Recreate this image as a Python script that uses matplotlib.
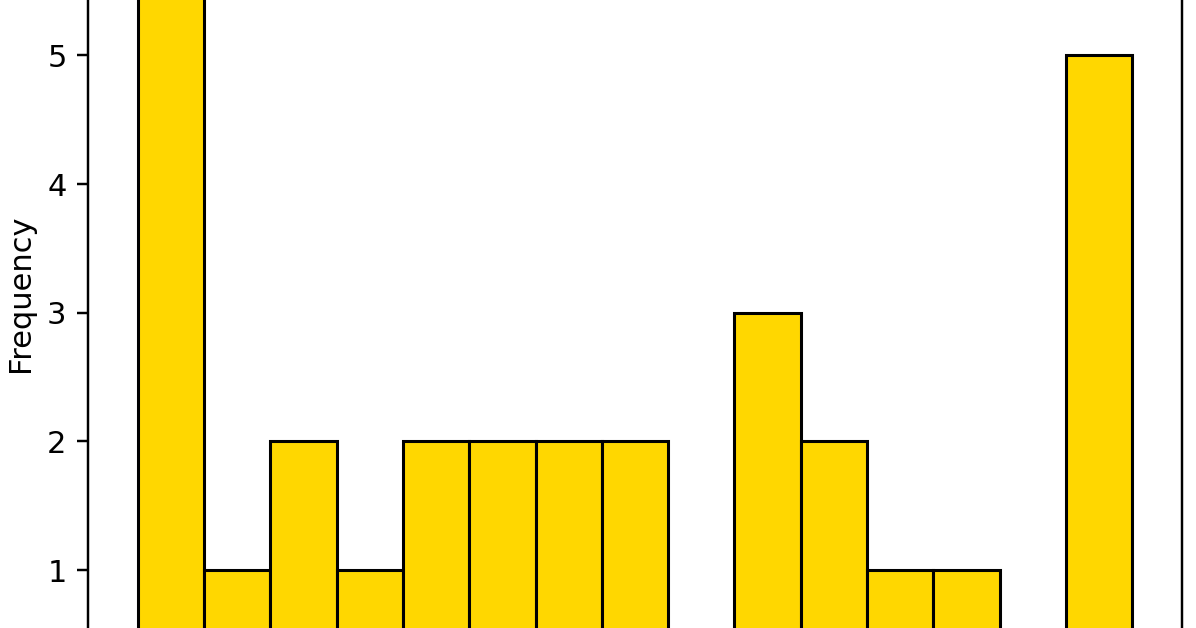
import numpy as np
import matplotlib
matplotlib.use('Agg')
import matplotlib.pyplot as plt

# histogram counts per bin
counts = [6, 1, 2, 1, 2, 2, 2, 2, 0, 3, 2, 1, 1, 0, 5]
bin_edges = list(range(16))
ylabel = 'Frequency'

# the picture is a 2.2x blow-up of a default matplotlib figure, cropped
scale = 2.2
plt.rcParams['font.size'] = 10 * scale
plt.rcParams['axes.linewidth'] = 0.8 * scale
plt.rcParams['ytick.major.size'] = 3.5 * scale
plt.rcParams['ytick.major.width'] = 0.8 * scale
plt.rcParams['ytick.major.pad'] = 3.5 * scale
plt.rcParams['axes.labelpad'] = 4 * scale

fig = plt.figure(figsize=(11.96, 6.28), dpi=100)
ax = fig.add_axes([88 / 1196, -0.1127, 1094 / 1196, 1.2907])

ax.hist(bin_edges[:-1], bins=bin_edges, weights=counts,
        color='gold', edgecolor='black', linewidth=1.0 * scale)
ax.set_ylabel(ylabel)

fig.savefig('out.png', dpi=100)
